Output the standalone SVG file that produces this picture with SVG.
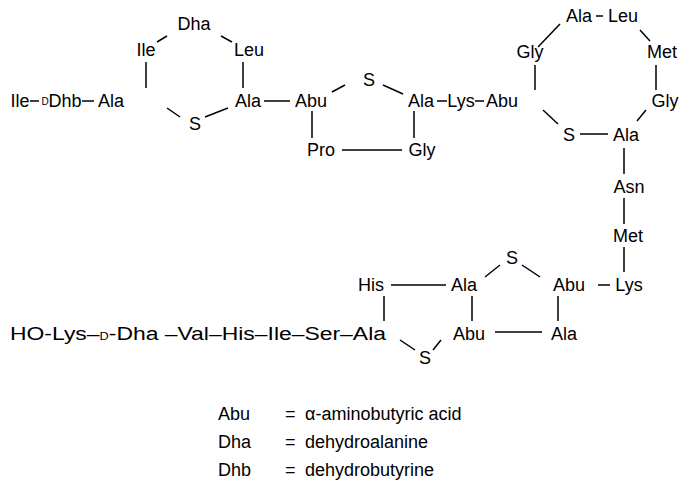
<svg xmlns="http://www.w3.org/2000/svg" width="691" height="496" viewBox="0 0 691 496">
<style>
text{font-family:"Liberation Sans",Arial,sans-serif;font-size:18px;fill:#000;text-anchor:middle}
.l{text-anchor:start}
.d{font-size:10px}
#connectors line{stroke:#000;stroke-width:1.5}
</style>
<rect width="691" height="496" fill="#fff"/>
<g id="connectors">
<line x1="30" y1="101" x2="39" y2="101"/><line x1="82" y1="101" x2="94" y2="101"/>
<line x1="146" y1="62" x2="146" y2="88"/><line x1="157" y1="42" x2="167" y2="36"/>
<line x1="221" y1="36" x2="232" y2="42"/><line x1="243" y1="62" x2="243" y2="88"/>
<line x1="167" y1="108" x2="180" y2="117"/><line x1="205" y1="117" x2="228" y2="108"/>
<line x1="264" y1="101" x2="290" y2="101"/>
<line x1="332" y1="92" x2="345" y2="85"/><line x1="383" y1="85" x2="403" y2="94"/>
<line x1="312" y1="111" x2="312" y2="138"/><line x1="342" y1="150" x2="402" y2="150"/>
<line x1="414" y1="111" x2="414" y2="138"/>
<line x1="437" y1="101" x2="447" y2="101"/><line x1="475" y1="101" x2="484" y2="101"/>
<line x1="535" y1="65" x2="535" y2="90"/><line x1="538" y1="47" x2="560" y2="24"/>
<line x1="596" y1="16" x2="603" y2="16"/><line x1="640" y1="30" x2="650" y2="41"/>
<line x1="656" y1="65" x2="656" y2="90"/><line x1="646" y1="110" x2="637" y2="121"/>
<line x1="543" y1="110" x2="558" y2="124"/><line x1="580" y1="134" x2="608" y2="134"/>
<line x1="624" y1="148" x2="624" y2="174"/><line x1="624" y1="198" x2="624" y2="224"/>
<line x1="624" y1="247" x2="624" y2="272"/>
<line x1="391" y1="285" x2="446" y2="285"/><line x1="485" y1="277" x2="500" y2="265"/>
<line x1="522" y1="265" x2="540" y2="277"/><line x1="598" y1="285" x2="610" y2="285"/>
<line x1="384" y1="296" x2="384" y2="321"/><line x1="472" y1="296" x2="472" y2="321"/>
<line x1="558" y1="296" x2="558" y2="321"/><line x1="495" y1="332" x2="542" y2="332"/>
<line x1="400" y1="340" x2="415" y2="350"/><line x1="433" y1="350" x2="441" y2="340"/>
</g>
<g id="n-ile1"><text x="20" y="107">Ile</text></g>
<g id="n-d1"><text x="45" y="105" class="d">D</text></g>
<g id="n-dhb"><text x="65" y="107">Dhb</text></g>
<g id="n-ala1"><text x="111" y="107">Ala</text></g>
<g id="n-ile2"><text x="146" y="56">Ile</text></g>
<g id="n-dha1"><text x="194" y="30">Dha</text></g>
<g id="n-leu1"><text x="249" y="56">Leu</text></g>
<g id="n-s1"><text x="195" y="130">S</text></g>
<g id="n-ala2"><text x="248" y="107">Ala</text></g>
<g id="n-abu1"><text x="311" y="107">Abu</text></g>
<g id="n-s2"><text x="369" y="86">S</text></g>
<g id="n-pro"><text x="321" y="156">Pro</text></g>
<g id="n-gly1"><text x="422" y="156">Gly</text></g>
<g id="n-ala3"><text x="421" y="107">Ala</text></g>
<g id="n-lys1"><text x="461" y="107">Lys</text></g>
<g id="n-abu2"><text x="502" y="107">Abu</text></g>
<g id="n-gly2"><text x="530" y="58">Gly</text></g>
<g id="n-ala4"><text x="579" y="22">Ala</text></g>
<g id="n-leu2"><text x="623" y="22">Leu</text></g>
<g id="n-met1"><text x="662" y="58">Met</text></g>
<g id="n-gly3"><text x="665" y="107">Gly</text></g>
<g id="n-s3"><text x="569" y="141">S</text></g>
<g id="n-ala5"><text x="626" y="141">Ala</text></g>
<g id="n-asn"><text x="629" y="193">Asn</text></g>
<g id="n-met2"><text x="628" y="242">Met</text></g>
<g id="n-lys2"><text x="629" y="291">Lys</text></g>
<g id="n-s4"><text x="512" y="264">S</text></g>
<g id="n-his1"><text x="371" y="291">His</text></g>
<g id="n-ala6"><text x="464" y="291">Ala</text></g>
<g id="n-abu3"><text x="569" y="291">Abu</text></g>
<g id="n-chain"><text x="10" y="340" class="l" textLength="376" lengthAdjust="spacingAndGlyphs">HO-Lys–<tspan class="d">D</tspan>-Dha –Val–His–Ile–Ser–Ala</text></g>
<g id="n-abu4"><text x="469" y="340">Abu</text></g>
<g id="n-ala7"><text x="564" y="340">Ala</text></g>
<g id="n-s5"><text x="425" y="364">S</text></g>
<g id="legend">
<text x="218" y="420" class="l">Abu</text><text x="285" y="420" class="l">=</text><text x="305" y="420" class="l">α-aminobutyric acid</text>
<text x="218" y="448" class="l">Dha</text><text x="285" y="448" class="l">=</text><text x="305" y="448" class="l">dehydroalanine</text>
<text x="218" y="476" class="l">Dhb</text><text x="285" y="476" class="l">=</text><text x="305" y="476" class="l">dehydrobutyrine</text>
</g>
</svg>
